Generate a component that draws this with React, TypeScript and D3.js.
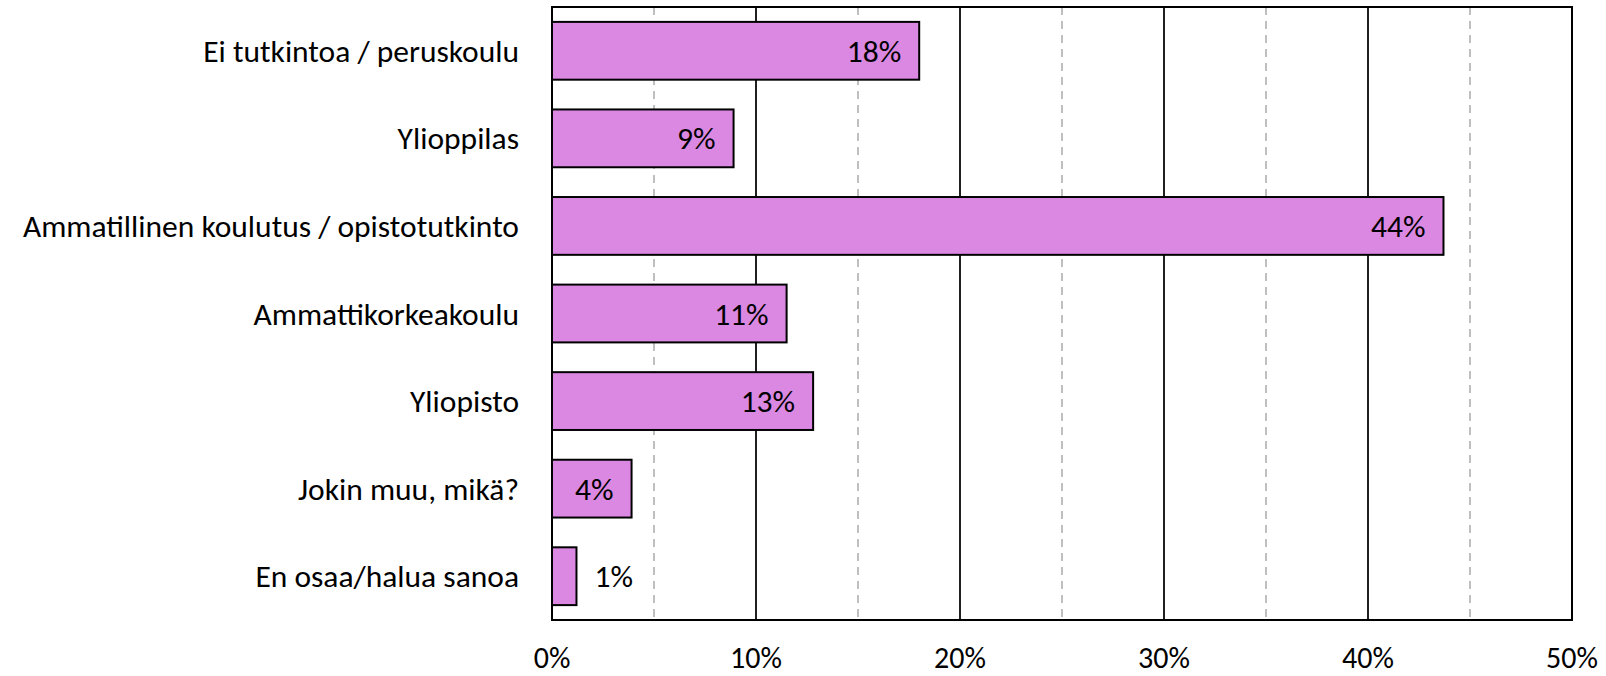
import React from "react";
import * as d3 from "d3";

const categories = [
  "Ei tutkintoa / peruskoulu",
  "Ylioppilas",
  "Ammatillinen koulutus / opistotutkinto",
  "Ammattikorkeakoulu",
  "Yliopisto",
  "Jokin muu, mikä?",
  "En osaa/halua sanoa",
];
const values = [18.0, 8.9, 43.7, 11.5, 12.8, 3.9, 1.2];
const labels = ["18%", "9%", "44%", "11%", "13%", "4%", "1%"];
const majorTicks = [0, 10, 20, 30, 40, 50];
const minorTicks = [5, 15, 25, 35, 45];

const W = 1606;
const H = 676;
const left = 552;
const right = 1572;
const top = 7;
const bottom = 620;
const FONT = "Carlito, Calibri, Lato, sans-serif";
const FS = 31.5;

export default function App() {
  const x = d3.scaleLinear().domain([0, 50]).range([left, right]);
  const y = d3
    .scaleBand<string>()
    .domain(categories)
    .range([top, bottom])
    .paddingInner(0.34)
    .paddingOuter(0.17);

  return (
    <svg
      width={W}
      height={H}
      style={{ position: "fixed", left: 0, top: 0, background: "#fff" }}
      fontFamily={FONT}
    >
      <rect x={0} y={0} width={W} height={H} fill="#fff" />
      {minorTicks.map((t) => (
        <line
          key={"mn" + t}
          x1={x(t)}
          x2={x(t)}
          y1={top}
          y2={bottom}
          stroke="#BFBFBF"
          strokeWidth={2}
          strokeDasharray="8,6"
        />
      ))}
      {majorTicks.map((t) => (
        <line
          key={"mj" + t}
          x1={x(t)}
          x2={x(t)}
          y1={top}
          y2={bottom}
          stroke="#000"
          strokeWidth={1.75}
        />
      ))}
      <rect
        x={left}
        y={top}
        width={right - left}
        height={bottom - top}
        fill="none"
        stroke="#000"
        strokeWidth={2}
      />
      {categories.map((c, i) => {
        const by = y(c)!;
        const bw = y.bandwidth();
        const xe = x(values[i]);
        const inside = xe - x(0) > 60;
        return (
          <g key={c}>
            <rect
              x={x(0)}
              y={by}
              width={xe - x(0)}
              height={bw}
              fill="#DA88E2"
              stroke="#000"
              strokeWidth={2}
            />
            <text
              x={inside ? xe - 18 : xe + 18}
              y={by + bw / 2 + 11}
              textAnchor={inside ? "end" : "start"}
              fontSize={FS}
              fill="#000"
            >
              {labels[i]}
            </text>
            <text
              x={519}
              y={by + bw / 2 + 11}
              textAnchor="end"
              fontSize={FS}
              fill="#000"
            >
              {c}
            </text>
          </g>
        );
      })}
      {majorTicks.map((t) => (
        <text
          key={"tl" + t}
          x={x(t)}
          y={668}
          textAnchor="middle"
          fontSize={30}
          fill="#000"
        >
          {t + "%"}
        </text>
      ))}
    </svg>
  );
}
